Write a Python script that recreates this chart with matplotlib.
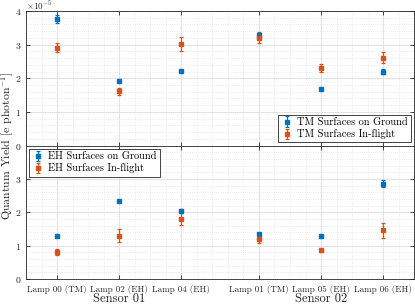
import numpy as np
import matplotlib
matplotlib.use('Agg')
import matplotlib.pyplot as plt
from matplotlib.ticker import MultipleLocator

# lamps, grouped by sensor (small gap between the two sensors)
lamps = ['Lamp 00 (TM)', 'Lamp 02 (EH)', 'Lamp 04 (EH)',
         'Lamp 01 (TM)', 'Lamp 05 (EH)', 'Lamp 06 (EH)']
lamp_pos = [1, 2, 3, 4.25, 5.25, 6.25]
sensors = ['Sensor 01', 'Sensor 02']
sensor_pos = [2, 5.25]

# quantum yield, units of 1e-5 e/photon
tm_ground = [3.76, 1.92, 2.21, 3.30, 1.68, 2.20]
tm_ground_err = [0.11, 0.03, 0.03, 0.05, 0.02, 0.08]
tm_flight = [2.91, 1.61, 3.01, 3.21, 2.31, 2.61]
tm_flight_err = [0.14, 0.10, 0.21, 0.15, 0.11, 0.17]

eh_ground = [1.30, 2.33, 2.04, 1.35, 1.30, 2.86]
eh_ground_err = [0.03, 0.03, 0.05, 0.03, 0.03, 0.10]
eh_flight = [0.81, 1.30, 1.81, 1.20, 0.86, 1.46]
eh_flight_err = [0.10, 0.20, 0.20, 0.11, 0.04, 0.22]

blue = '#0072BD'
orange = '#D95319'

plt.rcParams['font.family'] = 'serif'
plt.rcParams['font.serif'] = ['cmr10']
plt.rcParams['mathtext.fontset'] = 'cm'
plt.rcParams['axes.formatter.use_mathtext'] = True
plt.rcParams['axes.unicode_minus'] = False

fig = plt.figure(figsize=(4.15, 3.04), dpi=100)
ax1 = fig.add_axes([0.063, 0.521, 0.935, 0.443])
ax2 = fig.add_axes([0.063, 0.082, 0.935, 0.439], sharex=ax1)


def style(ax):
    ax.set_xlim(0.5, 6.75)
    ax.set_ylim(0, 4)
    ax.xaxis.set_minor_locator(MultipleLocator(0.25))
    ax.yaxis.set_major_locator(MultipleLocator(1))
    ax.yaxis.set_minor_locator(MultipleLocator(0.2))
    ax.grid(which='major', color='#e3e3e3', linewidth=0.8)
    ax.grid(which='minor', color='#e3e3e3', linestyle=':', linewidth=0.6)
    ax.set_axisbelow(True)
    ax.tick_params(which='both', direction='in', top=True, right=True,
                   labelsize=7, colors='#262626', length=3, width=0.6)
    ax.tick_params(which='minor', length=0)
    for s in ax.spines.values():
        s.set_color('#262626')
        s.set_linewidth(0.6)


ek = dict(fmt='s', markersize=3, capsize=1.5, elinewidth=0.9, capthick=0.9)

ax1.errorbar(lamp_pos, tm_ground, yerr=tm_ground_err, color=blue,
             label='TM Surfaces on Ground', **ek)
ax1.errorbar(lamp_pos, tm_flight, yerr=tm_flight_err, color=orange,
             label='TM Surfaces In-flight', **ek)
ax2.errorbar(lamp_pos, eh_ground, yerr=eh_ground_err, color=blue,
             label='EH Surfaces on Ground', **ek)
ax2.errorbar(lamp_pos, eh_flight, yerr=eh_flight_err, color=orange,
             label='EH Surfaces In-flight', **ek)

style(ax1)
style(ax2)
ax1.set_yticks([0, 1, 2, 3, 4])
ax2.set_yticks([0, 1, 2, 3])
ax1.set_xticks(lamp_pos)
ax1.tick_params(axis='x', labelbottom=False)
ax2.set_xticks(lamp_pos)
ax2.set_xticklabels(lamps)
ax2.tick_params(axis='x', labelsize=6.5, pad=4)

ax1.text(0.0, 1.004, r'$\times10^{-5}$', transform=ax1.transAxes,
         fontsize=6.5, ha='left', va='baseline', color='#262626')

leg_kw = dict(fontsize=7.5, fancybox=False, edgecolor='#262626',
              framealpha=1, borderaxespad=0.3, handlelength=1.0,
              handletextpad=0.5, labelspacing=0.2, borderpad=0.3)
leg1 = ax1.legend(loc='lower right', **leg_kw)
leg1.get_frame().set_linewidth(0.6)
leg2 = ax2.legend(loc='upper left', **leg_kw)
leg2.get_frame().set_linewidth(0.6)

for name, p in zip(sensors, sensor_pos):
    ax2.text(p, -0.15, name, transform=ax2.get_xaxis_transform(),
             ha='center', va='center', fontsize=9, color='#262626')

fig.text(0.018, 0.52, r'Quantum Yield [e photon$^{-1}$]', rotation=90,
         ha='center', va='center', fontsize=8.5, color='#262626')

fig.savefig('out.png', dpi=100)
